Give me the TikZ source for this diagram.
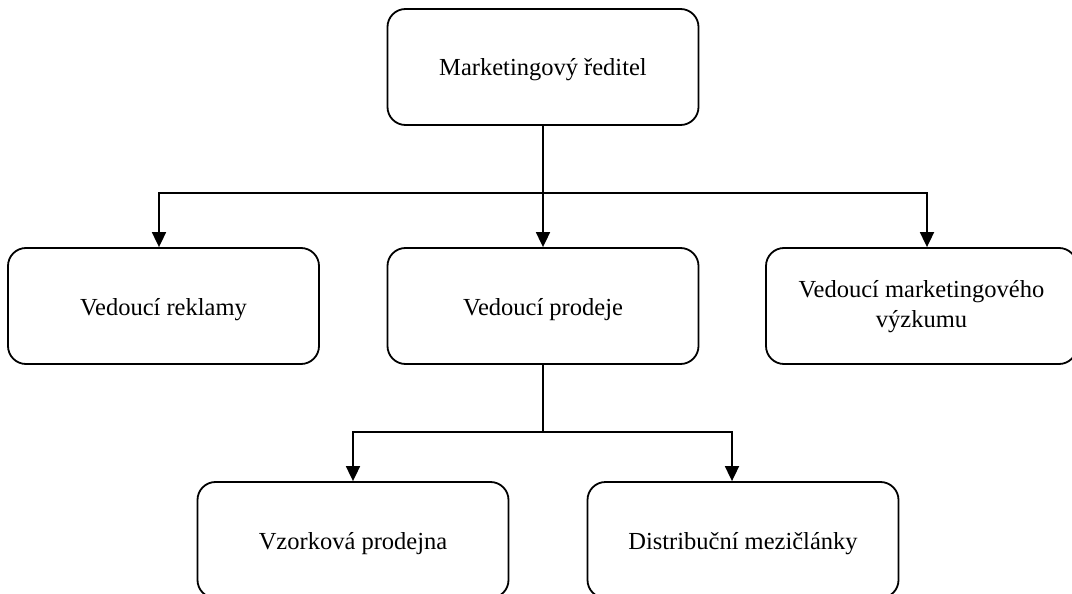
\documentclass[tikz,border=0pt]{standalone}
\usepackage{fontspec}
\setmainfont{Liberation Serif}
\usetikzlibrary{arrows.meta}
\begin{document}
\begin{tikzpicture}[x=1pt,y=-1pt,
  unit/.style={draw, line width=1.8pt, rounded corners=18pt,
    minimum width=311pt, minimum height=116pt, align=center,
    font=\fontsize{24.5}{30}\selectfont, inner sep=0pt},
  oneline/.style={unit, text height=24pt, text depth=6pt},
  twoline/.style={unit, text height=49pt, text depth=6pt},
  link/.style={line width=1.8pt},
  tolink/.style={link, -{Triangle[length=15pt,width=14pt]}}]
\clip (0,0) rectangle (1072,594);

% organisation units
\node[oneline] (mgr)   at (543,67)    {Marketingový ředitel};
\node[oneline] (adv)   at (163.5,306) {Vedoucí reklamy};
\node[oneline] (sales) at (543,306)   {Vedoucí prodeje};
\node[twoline] (res)   at (921.5,306) {Vedoucí marketingového\\výzkumu};
\node[oneline] (shop)  at (353,540)   {Vzorková prodejna};
\node[oneline] (dist)  at (743,540)   {Distribuční mezičlánky};

% junctions of the branching lines
\coordinate (j1) at (543,193);
\coordinate (j2) at (543,432);

% director -> heads of departments
\draw[tolink] (mgr.south) -- (sales.north);
\draw[tolink] (j1) -| ([xshift=-4.5pt]adv.north);
\draw[tolink] (j1) -| ([xshift=5.5pt]res.north);

% sales -> sales channels
\draw[link] (sales.south) -- (j2);
\draw[tolink] (j2) -| (shop.north);
\draw[tolink] (j2) -| ([xshift=-11pt]dist.north);
\end{tikzpicture}
\end{document}
